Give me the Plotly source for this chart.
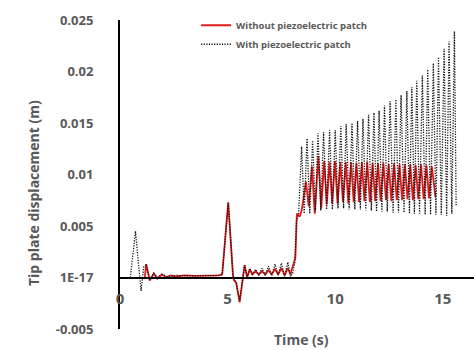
import plotly.graph_objects as go

# ---- Tip plate displacement (m) versus time (s) ----

# Without piezoelectric patch: start-up transient, disturbance near 5 s, step near 8.2 s
red_t_head = [1.15, 1.22, 1.38, 1.57, 1.74, 1.95, 2.15, 2.35, 2.6, 3.0, 3.5, 4.0, 4.6,
              4.75, 5.03, 5.25, 5.3, 5.4, 5.56, 5.79, 5.91, 6.03, 6.15, 6.3, 6.45, 6.6,
              6.75, 6.9, 7.05, 7.2, 7.35, 7.5, 7.65, 7.8, 7.92, 8.0, 8.15, 8.22, 8.35,
              8.45, 8.64, 8.77, 8.92, 9.05, 9.22, 9.35]
red_v_head = [0.0, 0.0013, -0.0003, 0.0004, -0.0001, 0.0003, 0.0, 0.0002, 0.0001, 0.0002,
              0.00015, 0.0002, 0.0002, 0.0003, 0.0073, 0.0002, -0.0003, -0.0005, -0.0024,
              0.0012, 0.0, 0.0008, 0.0003, 0.0006, 0.0003, 0.0006, 0.0003, 0.0007, 0.0003,
              0.0008, 0.0003, 0.0009, 0.0002, 0.0009, 0.0003, 0.0009, 0.0019, 0.0062,
              0.0059, 0.0066, 0.0093, 0.0069, 0.0108, 0.0062, 0.0118, 0.0067]
# steady oscillation: crests and troughs
red_peak_t = [9.49, 9.74, 9.99, 10.24, 10.49, 10.74, 10.99, 11.24, 11.49, 11.74, 11.99,
              12.24, 12.49, 12.74, 12.99, 13.24, 13.49, 13.74, 13.99, 14.24, 14.49]
red_peak_v = [0.0113, 0.0112, 0.0113, 0.0112, 0.0112, 0.0112, 0.0111, 0.0112, 0.0112,
              0.0111, 0.0111, 0.0111, 0.0110, 0.0111, 0.0110, 0.0110, 0.0110, 0.0109,
              0.0110, 0.0109, 0.0108]
red_trough_t = [9.61, 9.86, 10.11, 10.36, 10.61, 10.86, 11.11, 11.36, 11.61, 11.86, 12.11,
                12.36, 12.61, 12.86, 13.11, 13.36, 13.61, 13.86, 14.11, 14.36, 14.66]
red_trough_v = [0.0071, 0.0072, 0.0072, 0.0073, 0.0072, 0.0073, 0.0073, 0.0074, 0.0073,
                0.0074, 0.0074, 0.0075, 0.0074, 0.0075, 0.0075, 0.0076, 0.0075, 0.0076,
                0.0076, 0.0077, 0.0078]

# With piezoelectric patch
blk_t_head = [0.48, 0.6, 0.72, 0.85, 0.98, 1.1, 1.22, 1.38, 1.57, 1.74, 1.95, 2.2, 2.6,
              3.5, 4.6, 4.75, 5.03, 5.25, 5.4, 5.56, 5.79, 5.91, 6.03, 6.15, 6.3, 6.45,
              6.6, 6.75, 6.9, 7.05, 7.2, 7.35, 7.5, 7.65, 7.8, 7.92, 8.02, 8.12, 8.2,
              8.3, 8.44, 8.56]
blk_v_head = [0.0, 0.0022, 0.0045, 0.0015, -0.0013, 0.001, 0.0012, -0.0002, 0.0004, 0.0,
              0.0003, 0.0001, 0.0002, 0.00015, 0.0002, 0.0003, 0.0072, 0.0002, -0.0005,
              -0.0023, 0.0012, 0.0, 0.0009, 0.0003, 0.0008, 0.0002, 0.0009, 0.0002,
              0.0011, 0.0002, 0.0013, 0.0002, 0.0014, 0.0001, 0.0015, 0.0001, 0.0004,
              0.0014, 0.0055, 0.0062, 0.0127, 0.0062]
blk_peak_t = [8.69, 8.95, 9.20, 9.46, 9.74, 10.0, 10.26, 10.51, 10.78, 11.04, 11.29,
              11.55, 11.80, 12.04, 12.29, 12.55, 12.82, 13.06, 13.33, 13.56, 13.79,
              14.05, 14.30, 14.56, 14.80, 15.06, 15.29, 15.54]
blk_peak_v = [0.0135, 0.0133, 0.0140, 0.0141, 0.0143, 0.0143, 0.0147, 0.0149, 0.0150,
              0.0152, 0.0154, 0.0158, 0.0160, 0.0162, 0.0167, 0.0171, 0.0173, 0.0177,
              0.0181, 0.0185, 0.0191, 0.0196, 0.0202, 0.0208, 0.0214, 0.0222, 0.0229,
              0.0239]
blk_trough_t = [8.82, 9.08, 9.33, 9.60, 9.87, 10.13, 10.39, 10.65, 10.91, 11.17, 11.42,
                11.68, 11.92, 12.17, 12.42, 12.69, 12.94, 13.20, 13.45, 13.68, 13.92,
                14.18, 14.43, 14.68, 14.93, 15.18, 15.42, 15.62]
blk_trough_v = [0.0062, 0.0064, 0.0065, 0.0066, 0.0066, 0.0067, 0.0067, 0.0066, 0.0066,
                0.0066, 0.0065, 0.0065, 0.0064, 0.0064, 0.0064, 0.0063, 0.0063, 0.0063,
                0.0062, 0.0062, 0.0062, 0.0061, 0.0061, 0.0061, 0.0061, 0.0060, 0.0062,
                0.0070]

y_tick_vals = [-0.005, 0.0, 0.005, 0.01, 0.015, 0.02, 0.025]
y_tick_text = ["-0.005", "1E-17", "0.005", "0.01", "0.015", "0.02", "0.025"]
x_tick_vals = [0, 5, 10, 15]
series_names = ["Without piezoelectric patch", "With piezoelectric patch"]


def join(head_t, head_v, pk_t, pk_v, tr_t, tr_v):
    t, v = list(head_t), list(head_v)
    for a, b, c, d in zip(pk_t, pk_v, tr_t, tr_v):
        t += [a, c]
        v += [b, d]
    return t, v


red_t, red_v = join(red_t_head, red_v_head, red_peak_t, red_peak_v, red_trough_t, red_trough_v)
blk_t, blk_v = join(blk_t_head, blk_v_head, blk_peak_t, blk_peak_v, blk_trough_t, blk_trough_v)

GREY = "#595959"
FONT = "Open Sans"

fig = go.Figure()
fig.add_trace(go.Scatter(x=red_t, y=red_v, mode="lines", name=series_names[0],
                         line=dict(color="#E3191B", width=1.8)))
fig.add_trace(go.Scatter(x=blk_t, y=blk_v, mode="lines", name=series_names[1],
                         line=dict(color="#111111", width=1.3, dash="1.2px,1.4px")))

Y0, Y1 = -0.005, 0.025
fig.update_layout(
    width=474, height=350,
    margin=dict(l=120, r=0, t=20, b=21),
    paper_bgcolor="white", plot_bgcolor="white",
    font=dict(family=FONT, color=GREY),
    xaxis=dict(range=[0, 16.45], tickvals=x_tick_vals, showgrid=False, zeroline=False,
               showline=True, linecolor="black", linewidth=2,
               anchor="free", position=(0 - Y0) / (Y1 - Y0),
               ticks="", ticklabelstandoff=7,
               tickfont=dict(family=FONT, size=15, color=GREY, weight="bold")),
    yaxis=dict(range=[Y0, Y1], tickvals=y_tick_vals, ticktext=y_tick_text,
               showgrid=False, zeroline=False, showline=True, linecolor="black",
               linewidth=2, ticks="", ticklabelstandoff=22,
               tickfont=dict(family=FONT, size=13, color=GREY, weight="bold")),
    legend=dict(x=0.215, y=1.03, xanchor="left", yanchor="top", bgcolor="rgba(0,0,0,0)",
                font=dict(family=FONT, size=9.5, color=GREY, weight="bold"),
                itemwidth=30, tracegroupgap=0),
    showlegend=True,
)

fig.add_annotation(text="Time (s)", xref="paper", yref="paper", x=0.5, y=0,
                   yshift=-10, xshift=4, showarrow=False, yanchor="middle",
                   font=dict(family=FONT, size=14, color=GREY, weight="bold"))
fig.add_annotation(text="Tip plate displacement (m)", xref="paper", yref="paper",
                   x=0, xshift=-87, y=0.44, textangle=-90, showarrow=False,
                   xanchor="center", yanchor="middle",
                   font=dict(family=FONT, size=14, color=GREY, weight="bold"))

fig.write_html("out.html")
